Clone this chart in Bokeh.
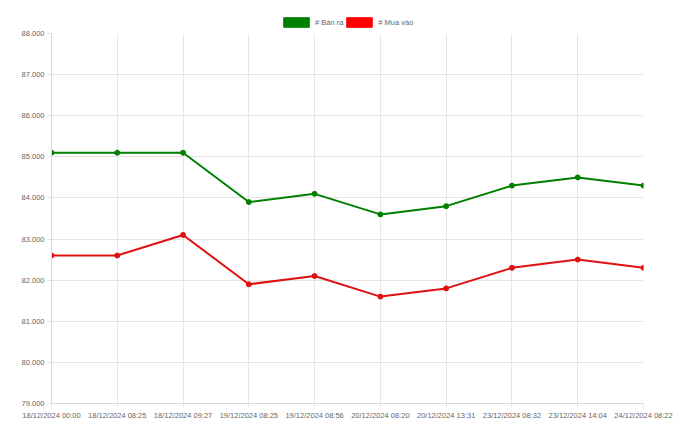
from bokeh.plotting import figure
from bokeh.layouts import column
from bokeh.models import FixedTicker, Legend, LegendItem, Range1d, ColumnDataSource
from bokeh.embed import file_html
from bokeh.resources import INLINE

dates = ["18/12/2024 00:00", "18/12/2024 08:25", "18/12/2024 09:27", "19/12/2024 08:25",
         "19/12/2024 08:56", "20/12/2024 08:20", "20/12/2024 13:31", "23/12/2024 08:32",
         "23/12/2024 14:04", "24/12/2024 08:22"]
ban_ra = [85100, 85100, 85100, 83900, 84100, 83600, 83800, 84300, 84500, 84300]
mua_vao = [82600, 82600, 83100, 81900, 82100, 81600, 81800, 82300, 82500, 82300]
y_ticks = [79000, 80000, 81000, 82000, 83000, 84000, 85000, 86000, 87000, 88000]
series_labels = ["# Bán ra", "# Mua vào"]

xs = list(range(len(dates)))
FONT = "Liberation Sans"
TXT = "#666666"
GRID = "#e5e5e5"

# ---- legend strip ----
top = figure(width=680, height=28, output_backend="svg", toolbar_location=None,
             x_range=Range1d(0, 680), y_range=Range1d(0, 28),
             x_axis_location=None, y_axis_location=None,
             min_border_left=0, min_border_right=0, min_border_top=0, min_border_bottom=0)
top.outline_line_color = None
top.grid.visible = False
g_box = top.rect(x=[-100], y=[0], width=1, height=1, fill_color="green", line_color="green")
r_box = top.rect(x=[-100], y=[0], width=1, height=1, fill_color="red", line_color="red")
legend = Legend(items=[LegendItem(label=series_labels[0], renderers=[g_box]),
                       LegendItem(label=series_labels[1], renderers=[r_box])],
                orientation="horizontal", location=(229, 0))
legend.glyph_width = 32
legend.glyph_height = 12
legend.label_text_font = FONT
legend.label_text_font_size = "7.5px"
legend.label_text_color = TXT
legend.label_standoff = 3
legend.spacing = 0
legend.padding = 0
legend.margin = 0
legend.border_line_color = None
legend.background_fill_alpha = 0
top.add_layout(legend)

# ---- main chart ----
p = figure(width=680, height=407, output_backend="svg", toolbar_location=None,
           x_range=Range1d(0, len(dates) - 1), y_range=Range1d(79000, 88000),
           min_border_left=51, min_border_right=37, min_border_top=5, min_border_bottom=32)
p.outline_line_color = None
p.background_fill_color = "white"
p.border_fill_color = "white"

src = ColumnDataSource(dict(x=xs, ban=ban_ra, mua=mua_vao))
p.line("x", "ban", source=src, line_color="green", line_width=2)
p.scatter("x", "ban", source=src, size=5, fill_color="green", line_color="green")
p.line("x", "mua", source=src, line_color="#e01010", line_width=2)
p.scatter("x", "mua", source=src, size=5, fill_color="#e01010", line_color="#e01010")

p.xaxis.ticker = FixedTicker(ticks=xs)
p.xaxis.major_label_overrides = {i: d for i, d in enumerate(dates)}
p.yaxis.ticker = FixedTicker(ticks=y_ticks)
p.yaxis.major_label_overrides = {v: f"{v // 1000}.{v % 1000:03d}" for v in y_ticks}

for ax in (p.xaxis, p.yaxis):
    ax.axis_line_color = "#d9d9d9"
    ax.major_tick_line_color = GRID
    ax.major_tick_out = 4
    ax.major_tick_in = 0
    ax.minor_tick_line_color = None
    ax.major_label_text_font = FONT
    ax.major_label_text_font_size = "7.5px"
    ax.major_label_text_color = TXT
p.xaxis.major_label_standoff = 3
p.yaxis.major_label_standoff = 3

p.xgrid.grid_line_color = GRID
p.ygrid.grid_line_color = GRID

layout = column(top, p, spacing=0)
open("out.html", "w").write(file_html(layout, INLINE))
